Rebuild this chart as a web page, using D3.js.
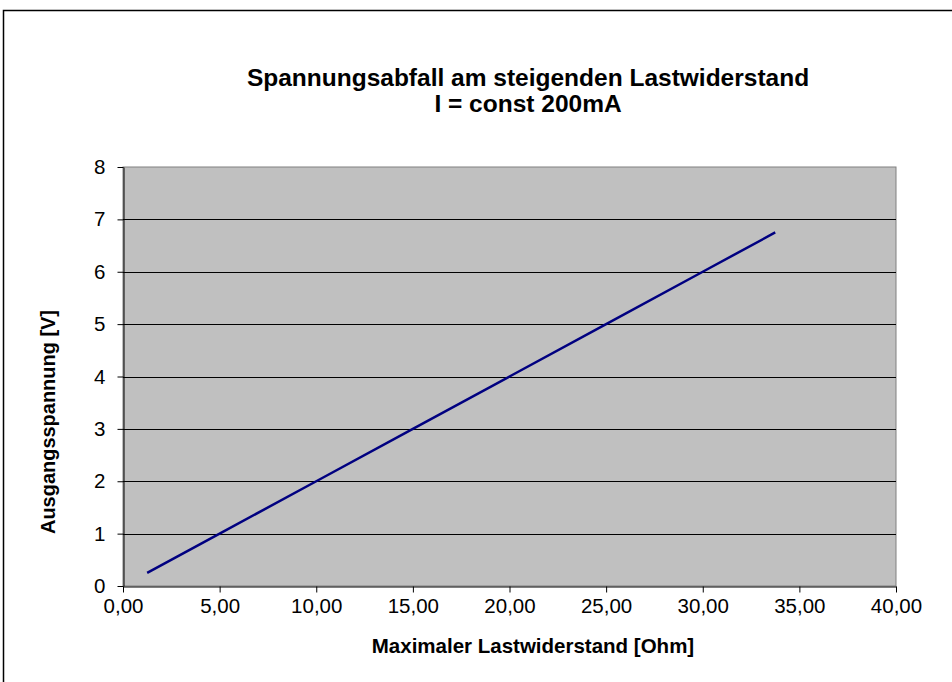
<!DOCTYPE html>
<html><head><meta charset="utf-8">
<script src="https://cdn.jsdelivr.net/npm/d3@7"></script>
<style>body{margin:0;background:#fff}svg{display:block}text{font-family:"Liberation Sans",Arial,sans-serif;fill:#000}</style>
</head><body>
<script>
const resistance = [1.25, 5.00, 10.00, 15.00, 20.00, 25.00, 30.00, 33.75];
const voltage    = [0.25, 1.00, 2.00, 3.00, 4.00, 5.00, 6.00, 6.75];
const xTicks = [0, 5, 10, 15, 20, 25, 30, 35, 40];
const yTicks = [0, 1, 2, 3, 4, 5, 6, 7, 8];
const titleLines = ["Spannungsabfall am steigenden Lastwiderstand", "I = const 200mA"];
const xTitle = "Maximaler Lastwiderstand [Ohm]";
const yTitle = "Ausgangsspannung [V]";

const W = 952, H = 682;
const svg = d3.select("body").append("svg").attr("width", W).attr("height", H);
svg.append("rect").attr("x", 3.5).attr("y", 10.5).attr("width", 960).attr("height", 700)
  .attr("fill", "#fff").attr("stroke", "#000").attr("stroke-width", 1.5);

const L = 123, R = 896, T = 167, B = 586;
const x = d3.scaleLinear().domain([0, 40]).range([L, R]);
const y = d3.scaleLinear().domain([0, 8]).range([B, T]);

svg.append("rect").attr("x", L).attr("y", T).attr("width", R - L).attr("height", B - T)
  .attr("fill", "#c0c0c0").attr("stroke", "#808080").attr("stroke-width", 1);

svg.append("g").selectAll("line").data(yTicks.filter(d => d > 0 && d < 8)).join("line")
  .attr("x1", L).attr("x2", R).attr("y1", d => Math.round(y(d)) + 0.5).attr("y2", d => Math.round(y(d)) + 0.5)
  .attr("stroke", "#000").attr("stroke-width", 1);

const fmt = d => d3.format(".2f")(d).replace(".", ",");
const gx = svg.append("g").attr("transform", `translate(0,${B + 0.5})`)
  .call(d3.axisBottom(x).tickValues(xTicks).tickFormat(fmt).tickSize(6).tickSizeOuter(0).tickPadding(6));
const gy = svg.append("g").attr("transform", `translate(${L + 0.5},0)`)
  .call(d3.axisLeft(y).tickValues(yTicks).tickFormat(d3.format("d")).tickSize(6).tickSizeOuter(0).tickPadding(12));
[gx, gy].forEach(g => {
  g.attr("font-size", 20.5).attr("font-family", "Liberation Sans, Arial, sans-serif");
  g.select(".domain").attr("stroke", "#000");
  g.selectAll(".tick line").attr("stroke", "#000");
  g.selectAll("text").attr("font-size", 20.5).attr("fill", "#000");
});

const pts = resistance.map((r, i) => [r, voltage[i]]);
svg.append("path").datum(pts)
  .attr("d", d3.line().x(d => x(d[0])).y(d => y(d[1])))
  .attr("fill", "none").attr("stroke", "#000080").attr("stroke-width", 2.5);

svg.append("g").selectAll("text").data(titleLines).join("text")
  .attr("x", 528).attr("y", (d, i) => 86 + i * 26).attr("text-anchor", "middle")
  .attr("font-size", 24.5).attr("font-weight", "bold").text(d => d);

svg.append("text").attr("x", 533).attr("y", 653).attr("text-anchor", "middle")
  .attr("font-size", 20.5).attr("font-weight", "bold").text(xTitle);
svg.append("text").attr("transform", `translate(55,422) rotate(-90)`)
  .attr("text-anchor", "middle").attr("font-size", 20).attr("font-weight", "bold")
  .attr("textLength", 224).attr("lengthAdjust", "spacingAndGlyphs").text(yTitle);
</script>
</body></html>
